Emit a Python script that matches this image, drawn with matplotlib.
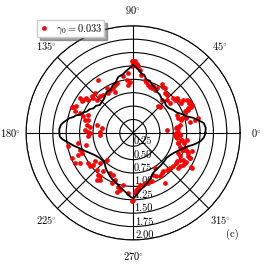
import numpy as np
import matplotlib
matplotlib.use("Agg")
import matplotlib.pyplot as plt

plt.rcParams['mathtext.fontset'] = 'cm'
plt.rcParams['font.family'] = 'serif'
plt.rcParams['font.serif'] = ['cmr10', 'DejaVu Serif']
plt.rcParams['axes.formatter.use_mathtext'] = True

# model curve (theta in degrees, r)
line_theta = [0, 4, 8, 11, 14, 17, 21, 25, 30, 35, 40, 45, 50, 55, 60, 64, 68, 72, 76, 79, 82, 85, 88, 90,
              92, 96, 100, 105, 109, 113, 118, 123, 130, 136, 140, 144, 148, 152, 155, 158, 161, 163, 165, 167, 169, 172, 174, 177, 180,
              183, 185, 187, 189, 192, 196, 200, 205, 210, 217, 222, 227, 231, 234, 238, 242, 247, 252, 256, 260, 263, 266, 268, 270,
              272, 275, 277, 281, 285, 290, 296, 302, 309, 316, 323, 328, 333, 338, 343, 346, 349, 351, 353, 356, 358, 360]
line_r = [1.35, 1.36, 1.33, 1.24, 1.16, 1.05, 0.98, 0.90, 0.86, 0.81, 0.80, 0.83, 0.83, 0.87, 0.89, 0.94, 0.96, 1.02, 1.03, 1.10, 1.12, 1.18, 1.23, 1.27,
          1.23, 1.17, 1.11, 1.08, 1.00, 0.97, 0.91, 0.91, 0.84, 0.82, 0.81, 0.86, 0.87, 0.93, 0.95, 1.01, 1.04, 1.12, 1.15, 1.22, 1.26, 1.33, 1.36, 1.38, 1.38,
          1.37, 1.33, 1.27, 1.21, 1.14, 1.04, 0.97, 0.89, 0.83, 0.78, 0.77, 0.78, 0.82, 0.85, 0.88, 0.92, 0.96, 0.99, 1.04, 1.08, 1.12, 1.17, 1.20, 1.22,
          1.19, 1.12, 1.08, 1.03, 0.98, 0.92, 0.84, 0.81, 0.80, 0.79, 0.78, 0.80, 0.84, 0.90, 0.98, 1.05, 1.15, 1.21, 1.27, 1.32, 1.34, 1.35]

# measured points (theta in degrees, r)
pts_theta = [90, 85.7, 84, 81.9, 77.6, 75.5, 72.6, 70, 67.7, 67, 63.2, 62.5, 59.5, 57, 54.7, 51.4, 48.8, 49.4, 44.6, 46.5,
             44.7, 39, 41, 38.4, 38.7, 36.3, 33.4, 31.8, 29.6, 27.6, 25.6, 22.7, 22.4, 22.6, 16.9, 12.7, 11.9, 5.1, 8.3, 6, 0,
             90, 91, 94.5, 96.8, 99.8, 108, 110.6, 113.8, 113.5, 118, 120.5, 122, 128, 132.3, 123.2, 137.7, 133.7, 138.8, 138.7, 143.6,
             143.1, 146.4, 148.6, 146.8, 155, 156.2, 156.8, 159.8, 159.6, 161.8, 164.8, 163.8, 170.2, 171.7, 176.4, 178.3, 177.7, 171.5, 167.6, 158,
             93.3, 95.6,
             180, 184.2, 183, 190.4, 194.2, 191.6, 197.5, 201.3, 201.6, 202.2, 207.4, 209.5, 213.9, 217.8, 218.6, 216.7, 222.3, 225.3, 230.2, 232.7,
             232.2, 225.4, 240, 244.7, 248.9, 246.9, 254.6, 257.1, 259.4, 265.5, 268.9, 254.4, 234.8, 232.1,
             357.7, 353.4, 358, 352.1, 348.7, 343.8, 340.9, 341, 342.6, 337, 336.2, 331.9, 329.9, 336, 326.8, 324.5, 329, 320.2, 316.4, 312.2,
             308.1, 305.3, 302.4, 301.7, 298.3, 295.6, 290.8, 289.1, 286.7, 283.2, 280.9, 277.4, 275.2, 273.3, 271.6, 270, 301.8, 333.5, 352.8, 347.5,
             31.7, 27.8, 24.4, 24.3, 21, 15.5, 15.2, 18.2, 11.3, 9.8, 6.2, 1.7, 357.5, 355, 351.7, 347, 343.5, 341.7, 339.6, 335.8,
             331.6, 329.7, 324.8, 327.2, 329.8, 321.7,
             91, 90, 88.5, 86.6]
pts_r = [1.34, 1.25, 1.19, 1.10, 1.02, 0.99, 0.94, 0.92, 0.91, 0.96, 0.90, 0.95, 1.05, 1.03, 1.03, 0.95, 0.95, 0.82, 0.70, 0.68,
         0.88, 0.89, 0.99, 1.00, 1.04, 1.05, 1.12, 1.18, 1.19, 1.20, 1.21, 1.12, 1.05, 0.88, 0.95, 1.25, 1.18, 0.63, 0.82, 0.85, 0.81,
         1.34, 1.24, 1.12, 1.00, 1.07, 0.98, 0.96, 0.92, 0.84, 0.91, 0.97, 0.88, 0.90, 0.92, 1.19, 0.92, 1.03, 0.99, 1.03, 1.04,
         1.09, 1.12, 1.13, 1.19, 1.17, 1.22, 1.25, 1.16, 1.06, 0.98, 0.93, 0.87, 0.88, 0.82, 0.90, 0.84, 0.62, 0.59, 0.70, 0.90,
         0.96, 0.90,
         0.81, 0.84, 0.62, 1.04, 0.90, 1.24, 1.04, 1.03, 1.10, 1.24, 1.22, 1.14, 1.01, 1.02, 0.95, 0.89, 0.84, 0.97, 1.02, 1.02,
         0.91, 0.70, 0.87, 0.87, 0.94, 1.02, 1.04, 1.09, 0.99, 1.13, 1.28, 1.14, 1.07, 1.11,
         0.78, 0.82, 0.88, 0.92, 0.96, 1.01, 0.96, 1.06, 1.15, 1.12, 1.16, 1.06, 1.12, 0.92, 0.97, 1.08, 1.28, 0.98, 0.95, 0.93,
         0.91, 0.92, 1.11, 0.95, 0.92, 0.87, 0.97, 0.96, 0.98, 0.96, 0.99, 0.98, 1.04, 1.07, 1.13, 1.25, 0.77, 0.98, 1.01, 0.86,
         1.06, 1.19, 1.19, 1.13, 1.03, 1.03, 0.93, 0.88, 1.08, 0.88, 0.81, 0.84, 0.87, 0.81, 0.91, 0.86, 0.91, 1.01, 1.09, 1.16,
         1.13, 1.01, 0.99, 1.11, 1.26, 1.07,
         1.34, 1.31, 1.34, 1.28]

r_ticks = [0.25, 0.5, 0.75, 1.0, 1.25, 1.5, 1.75, 2.0]
r_labels = ['0.25', '0.50', '0.75', '1.00', '1.25', '1.50', '1.75', '2.00']
legend_label = r'$\gamma_0 = 0.033$'

fig = plt.figure(figsize=(2.66, 2.66), dpi=100)
ax = fig.add_axes([0.098, 0.098, 0.805, 0.805], projection='polar')

ax.plot(np.deg2rad(pts_theta), pts_r, 'o', color='red', ms=3.4, mew=0, label=legend_label, zorder=3)
ax.plot(np.deg2rad(line_theta), line_r, '-', color='black', lw=1.3, zorder=4)

ax.set_ylim(0, 2.0)
ax.set_yticks(r_ticks)
ax.set_yticklabels(r_labels, fontsize=7.5)
ax.set_rlabel_position(271)
for lab in ax.get_yticklabels():
    lab.set_ha('left')
    lab.set_va('bottom')

thetas = [0, 45, 90, 135, 180, 225, 270, 315]
ax.set_thetagrids(thetas, [r'$%d\!^\circ$' % t for t in thetas], fontsize=7.5)
ax.tick_params(axis='x', pad=1)
ax.grid(True, color='black', lw=0.8, ls='-')
ax.spines['polar'].set_color('black')
ax.spines['polar'].set_linewidth(0.8)

leg = ax.legend(loc='upper left', bbox_to_anchor=(0.05, 1.025), borderaxespad=0, fontsize=7.5, shadow=True,
                fancybox=False, handlelength=1.0, handletextpad=0.7, borderpad=0.15, markerscale=1.0)
leg.get_frame().set_edgecolor('0.8')

fig.text(0.875, 0.12, '(c)', fontsize=7.5, ha='center', va='center')

fig.savefig('out.png', dpi=100)
